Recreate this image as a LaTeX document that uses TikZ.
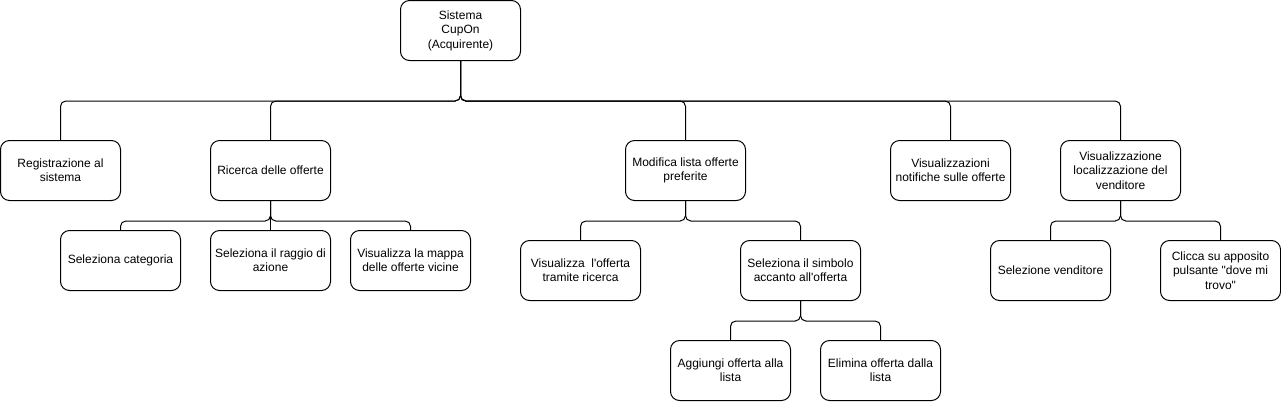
\documentclass[tikz,border=0pt]{standalone}
\usepackage{fontspec}
\setmainfont{Liberation Sans}
\begin{document}
\begin{tikzpicture}[x=0.75pt,y=-0.75pt,
 box/.style={draw, line width=0.75pt, rounded corners=6.75pt, minimum width=90pt, minimum height=45pt, inner sep=1pt, align=center, font=\fontsize{9}{10.8}\selectfont},
 link/.style={draw, line width=0.75pt, rounded corners=4pt}]
\useasboundingbox (0,0) rectangle (1281,401);
\node[box] (root) at (460.5,30.5) {Sistema\\CupOn\\(Acquirente)};
\node[box] (reg) at (60.5,170.5) {Registrazione al\\sistema};
\node[box] (ric) at (270.5,170.5) {Ricerca delle offerte};
\node[box] (mod) at (685.5,170.5) {Modifica lista offerte\\preferite};
\node[box] (notif) at (950.5,170.5) {Visualizzazioni\\notifiche sulle offerte};
\node[box] (loc) at (1120.5,170.5) {Visualizzazione\\localizzazione del\\venditore};
\node[box] (cat) at (120.5,260.5) {Seleziona categoria};
\node[box] (rag) at (270.5,260.5) {Seleziona il raggio di\\azione};
\node[box] (map) at (410.5,260.5) {Visualizza la mappa\\delle offerte vicine};
\node[box] (vis) at (580.5,270.5) {Visualizza\ \ l\textquotesingle offerta\\tramite ricerca};
\node[box] (simb) at (800.5,270.5) {Seleziona il simbolo\\accanto all\textquotesingle offerta};
\node[box] (agg) at (730.5,370.5) {Aggiungi offerta alla\\lista};
\node[box] (elim) at (880.5,370.5) {Elimina offerta dalla\\lista};
\node[box] (vend) at (1050.5,270.5) {Selezione venditore};
\node[box] (clic) at (1220.5,270.5) {Clicca su apposito\\pulsante \textquotedbl dove mi\\trovo\textquotedbl};
\foreach \c in {reg,ric,mod,notif,loc}
  \draw[link] (root.south) -- ++(0,40) -| (\c.north);
\draw[link] (ric.south) -- ++(0,20) -| (cat.north);
\draw[link] (ric.south) -- (rag.north);
\draw[link] (ric.south) -- ++(0,20) -| (map.north);
\draw[link] (mod.south) -- ++(0,20) -| (vis.north);
\draw[link] (mod.south) -- ++(0,20) -| (simb.north);
\draw[link] (simb.south) -- ++(0,20) -| (agg.north);
\draw[link] (simb.south) -- ++(0,20) -| (elim.north);
\draw[link] (loc.south) -- ++(0,20) -| (vend.north);
\draw[link] (loc.south) -- ++(0,20) -| (clic.north);
\end{tikzpicture}
\end{document}
